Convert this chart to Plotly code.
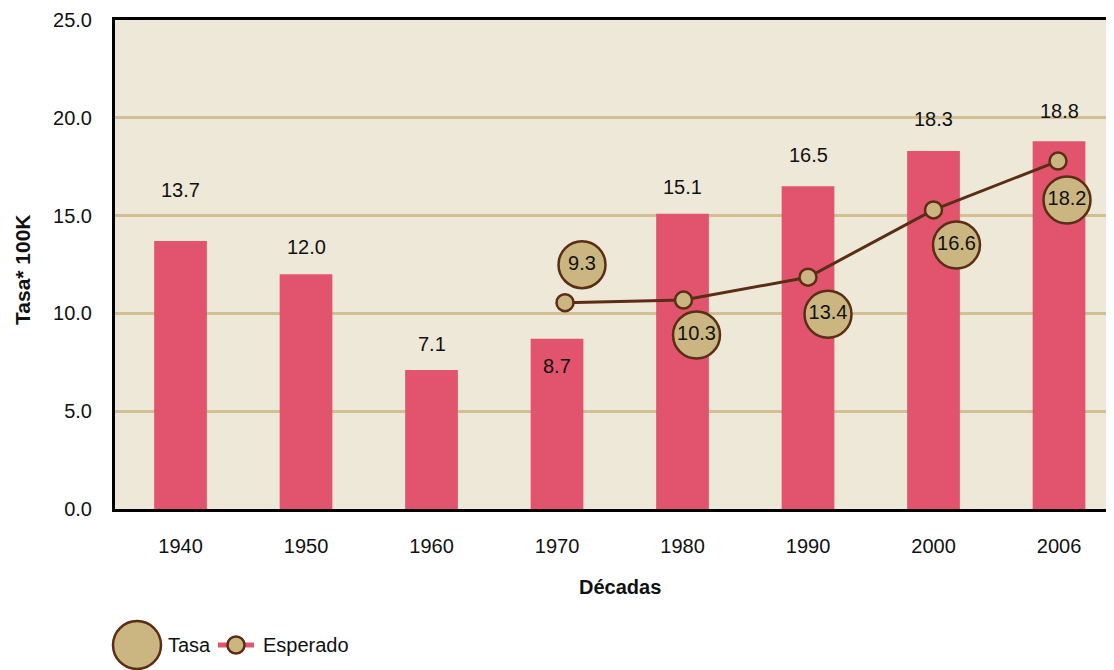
import plotly.graph_objects as go

# ---------------- data ----------------
decades = ["1940", "1950", "1960", "1970", "1980", "1990", "2000", "2006"]
bar_values = [13.7, 12.0, 7.1, 8.7, 15.1, 16.5, 18.3, 18.8]

esperado_decades = ["1970", "1980", "1990", "2000", "2006"]
esperado_values = [10.55, 10.68, 11.85, 15.29, 17.79]
tasa_labels = [9.3, 10.3, 13.4, 16.6, 18.2]

y_ticks = [0, 5, 10, 15, 20, 25]

# ---------------- layout constants ----------------
OFF = 8  # page body margin in the browser
SCREEN_W, SCREEN_H = 1114, 670
W, H = SCREEN_W - OFF, SCREEN_H - OFF
PLOT_LEFT, PLOT_TOP, PLOT_BOTTOM, PLOT_RIGHT = 115, 20, 509, 1114  # screen px
M_L = PLOT_LEFT - OFF
M_T = PLOT_TOP - OFF
M_B = H - (PLOT_BOTTOM - OFF)
M_R = W - (PLOT_RIGHT - OFF)
PLOT_W = PLOT_RIGHT - PLOT_LEFT
PLOT_H = PLOT_BOTTOM - PLOT_TOP
X_RANGE = [-0.522, -0.522 + PLOT_W / 125.5]
Y_RANGE = [0, 25]
PX_PER_X = PLOT_W / (X_RANGE[1] - X_RANGE[0])
PX_PER_Y = PLOT_H / (Y_RANGE[1] - Y_RANGE[0])


def px_x(sx):
    return (sx - PLOT_LEFT) / PLOT_W


def px_y(sy):
    return (PLOT_BOTTOM - sy) / PLOT_H


# label offsets (pixels) -- positions of text, not data
bar_label_shift = [51, 27, 26, -27, 27, 31, 32, 30]
esperado_dx_px = [8, 1, 0, 0, -1]
tasa_dx_px = [17, 13, 20, 23, 9]
tasa_dy_px = [38, -35, -37, -35, -39]  # positive = up

BG = "#EEE8D9"
BAR = "#E2546E"
TAN = "#CBB682"
BROWN = "#5A2D14"
GRID = "#D2BF92"
TXT = "#111111"
FONT = "Liberation Sans, Arial, sans-serif"
FS = 20

x_idx = list(range(len(decades)))
esp_x = [decades.index(d) + dx / PX_PER_X for d, dx in zip(esperado_decades, esperado_dx_px)]
tasa_x = [x + dx / PX_PER_X for x, dx in zip(esp_x, tasa_dx_px)]
tasa_y = [v + dy / PX_PER_Y for v, dy in zip(esperado_values, tasa_dy_px)]

fig = go.Figure()

fig.add_trace(go.Bar(
    x=x_idx, y=bar_values, width=0.42,
    marker=dict(color=BAR, line=dict(width=0)),
    name="Valor", showlegend=False, hoverinfo="y",
))

fig.add_trace(go.Scatter(
    x=esp_x, y=esperado_values, mode="lines+markers",
    line=dict(color=BROWN, width=3),
    marker=dict(size=17, color=TAN, line=dict(color=BROWN, width=2.5)),
    name="Esperado", showlegend=False,
))

fig.add_trace(go.Scatter(
    x=tasa_x, y=tasa_y, mode="markers+text",
    marker=dict(size=47, color=TAN, line=dict(color=BROWN, width=2.5)),
    text=[f"{v:.1f}" for v in tasa_labels], textposition="middle center",
    textfont=dict(family=FONT, size=FS, color=TXT),
    name="Tasa", showlegend=False, cliponaxis=False,
))

annotations = []
for i, (v, s) in enumerate(zip(bar_values, bar_label_shift)):
    annotations.append(dict(
        x=i, y=v, xref="x", yref="y", text=f"{v:.1f}", showarrow=False,
        yshift=s, font=dict(family=FONT, size=FS, color=TXT),
        xanchor="center", yanchor="middle",
    ))

# axis titles
annotations.append(dict(
    x=px_x(620), y=px_y(587), xref="paper", yref="paper",
    text="<b>Décadas</b>", showarrow=False, xanchor="center", yanchor="middle",
    font=dict(family=FONT, size=FS, color=TXT),
))
annotations.append(dict(
    x=px_x(22), y=px_y(270), xref="paper", yref="paper",
    text="<b>Tasa* 100K</b>", showarrow=False, textangle=-90,
    xanchor="center", yanchor="middle",
    font=dict(family=FONT, size=21, color=TXT),
))

# legend (drawn manually)
LEG_Y = px_y(645)
shapes = [
    dict(type="circle", xref="paper", yref="paper", xsizemode="pixel", ysizemode="pixel",
         xanchor=px_x(137), yanchor=LEG_Y, x0=-24, x1=24, y0=-24, y1=24,
         fillcolor=TAN, line=dict(color=BROWN, width=2.5)),
    dict(type="line", xref="paper", yref="paper", xsizemode="pixel", ysizemode="pixel",
         xanchor=px_x(236), yanchor=LEG_Y, x0=-18, x1=18, y0=0, y1=0,
         line=dict(color=BAR, width=5)),
    dict(type="circle", xref="paper", yref="paper", xsizemode="pixel", ysizemode="pixel",
         xanchor=px_x(236), yanchor=LEG_Y, x0=-8.5, x1=8.5, y0=-8.5, y1=8.5,
         fillcolor=TAN, line=dict(color=BROWN, width=2.5)),
]
annotations.append(dict(
    x=px_x(166), y=LEG_Y, xref="paper", yref="paper", text="Tasa",
    showarrow=False, xanchor="left", yanchor="middle",
    font=dict(family=FONT, size=FS, color=TXT),
))
annotations.append(dict(
    x=px_x(261), y=LEG_Y, xref="paper", yref="paper", text="Esperado",
    showarrow=False, xanchor="left", yanchor="middle",
    font=dict(family=FONT, size=FS, color=TXT),
))

fig.update_layout(
    width=W, height=H,
    margin=dict(l=M_L, r=M_R, t=M_T, b=M_B, pad=0),
    paper_bgcolor="white", plot_bgcolor=BG,
    showlegend=False,
    annotations=annotations, shapes=shapes,
    font=dict(family=FONT, size=FS, color=TXT),
)
fig.update_xaxes(
    range=X_RANGE, tickvals=x_idx, ticktext=decades,
    showgrid=False, zeroline=False, ticks="",
    showline=True, linecolor="black", linewidth=3, mirror=True,
    tickfont=dict(family=FONT, size=FS, color=TXT), ticklabelstandoff=17,
)
fig.update_yaxes(
    range=Y_RANGE, tickvals=y_ticks, tickformat=".1f",
    showgrid=True, gridcolor=GRID, gridwidth=3, zeroline=False, ticks="",
    showline=True, linecolor="black", linewidth=3,
    tickfont=dict(family=FONT, size=FS, color=TXT), ticklabelstandoff=16,
)

fig.write_html("out.html")
